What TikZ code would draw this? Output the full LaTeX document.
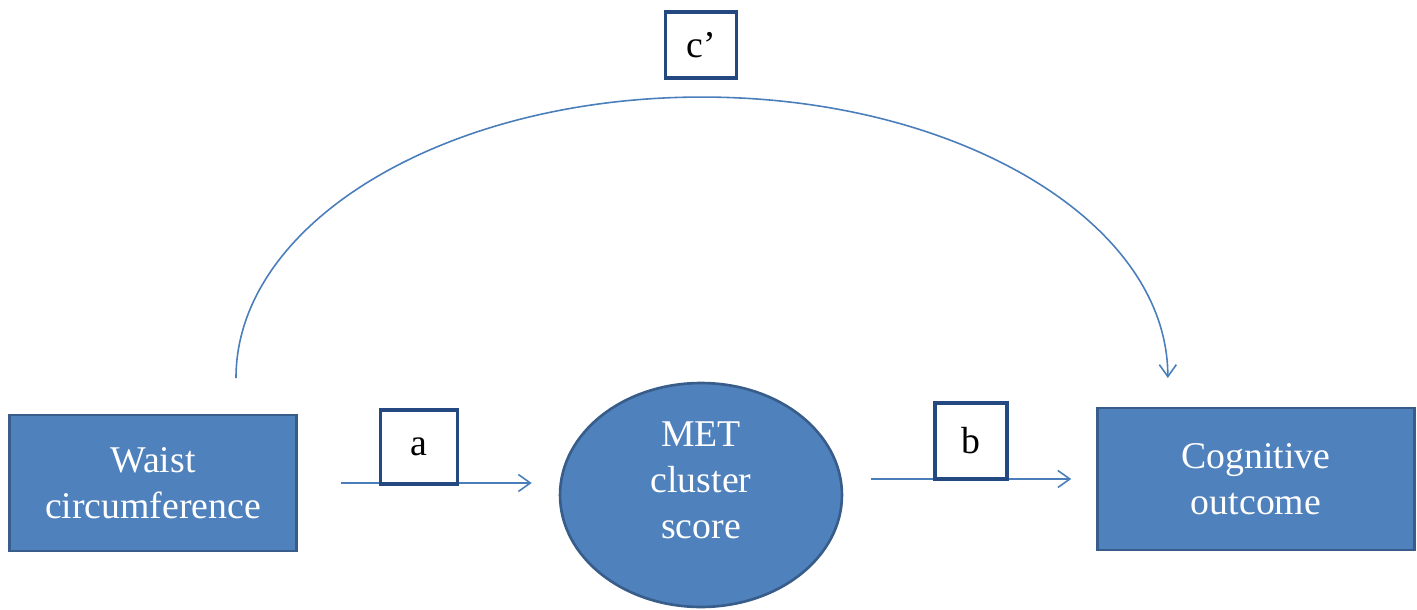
\documentclass[tikz,border=0pt]{standalone}
\usepackage{fontspec}
\setmainfont{Liberation Serif}
\newfontfamily\diagfont{Liberation Serif}
\usetikzlibrary{arrows.meta,shapes.geometric}

\definecolor{boxblue}{RGB}{79,129,189}
\definecolor{boxedge}{RGB}{56,93,138}
\definecolor{tagedge}{RGB}{36,72,128}
\definecolor{pathblue}{RGB}{74,126,187}

\def\labelsize{\diagfont\fontsize{21.5}{26}\selectfont}

\begin{document}
\begin{tikzpicture}[x=0.02cm, y=-0.02cm, >={Straight Barb[length=2.4mm,width=3.4mm]}]
    \tikzstyle{var box}=[draw=boxedge, line width=1.5pt, fill=boxblue, text=white, align=center, font=\labelsize, inner sep=0pt]
    \tikzstyle{measure}=[var box, rectangle]
    \tikzstyle{mediator}=[var box, ellipse, minimum width=5.64cm, minimum height=4.48cm]
    \tikzstyle{path tag}=[draw=tagedge, line width=2pt, fill=white, font=\labelsize, inner sep=0pt]
    \tikzstyle{path arrow}=[->, draw=pathblue, line width=0.9pt]

    \useasboundingbox (0,0) rectangle (1417,609);

    % Draw the variable nodes
    \node[measure, minimum width=5.74cm, minimum height=2.72cm] (waist) at (153,483) {Waist\\circumference};
    \node[mediator] (met) at (701,495) {MET\\cluster\\score\rule[-0.6cm]{0pt}{0.1pt}};
    \node[measure, minimum width=6.34cm, minimum height=2.84cm] (cog) at (1256,479) {Cognitive\\outcome};

    % Draw the direct path over the top
    \coordinate (c-start) at (236,378);
    \draw[path arrow] (c-start) arc[start angle=180, end angle=0, x radius=9.32cm, y radius=5.62cm] coordinate (c-end);

    % Draw the indirect paths
    \draw[path arrow, shorten <=0.86cm, shorten >=0.54cm] (waist.east) -- (waist.east -| met.west);
    \draw[path arrow, shorten <=0.56cm, shorten >=0.5cm] (met.east |- cog.west) -- (cog.west);

    % Label the paths
    \node[path tag, minimum width=1.54cm, minimum height=1.48cm] (tag-a) at (419,447) {a};
    \node[path tag, minimum width=1.44cm, minimum height=1.52cm] (tag-b) at (971,441) {b};
    \node[path tag, minimum width=1.42cm, minimum height=1.32cm] (tag-c) at (701,45) {c’};
\end{tikzpicture}
\end{document}
